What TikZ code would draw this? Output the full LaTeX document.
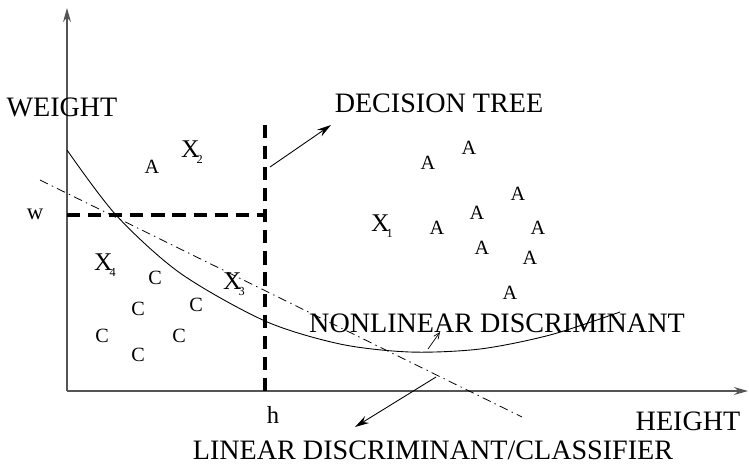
\documentclass[tikz,border=0pt]{standalone}
\usepackage{fontspec}
\setmainfont{Liberation Serif}
\usetikzlibrary{arrows.meta,positioning}
\definecolor{axisgray}{HTML}{555555}
\newcommand{\sublabel}[2]{X\kern-1.6pt\raisebox{-3.6pt}{\fontsize{7}{8}\selectfont #2}}
\tikzset{
  axisline/.style={axisgray, line width=0.7pt, -{Stealth[length=8pt,width=4.5pt]}},
  splitline/.style={black, line width=1.8pt, dash pattern=on 7.5pt off 4.5pt},
  linearline/.style={black, line width=0.45pt, dash pattern=on 5pt off 2.5pt on 0.8pt off 2.5pt},
  curveline/.style={black, line width=0.5pt},
  pointer/.style={black, line width=0.5pt, -{Stealth[length=8pt,width=4.5pt]}},
  openpointer/.style={black, line width=0.4pt, -{Straight Barb[length=3.5pt,width=3pt]}},
  biglabel/.style={font=\fontsize{16}{18}\selectfont, inner sep=0pt},
  classA/.style={font=\fontsize{11.5}{12}\selectfont, inner sep=0pt},
  samplelabel/.style={font=\fontsize{14.5}{16}\selectfont, inner sep=0pt}
}
\begin{document}
\begin{tikzpicture}[x=0.02cm, y=-0.02cm]
  \useasboundingbox (0,0) rectangle (749,464);
  % axes
  \coordinate (origin) at (67,391);
  \coordinate (ytop) at (67,8);
  \coordinate (xend) at (748,391);
  \draw[axisline] (origin) -- (ytop);
  \draw[axisline] (origin) -- (xend);
  \node[biglabel] (weight) at (62,107) {WEIGHT};
  \node[biglabel] (height) at (688,421) {HEIGHT};
  % decision tree split
  \coordinate (htop) at (265,124);
  \coordinate (hbot) at (265,391);
  \coordinate (wleft) at (67,215);
  \draw[splitline] (hbot) -- (htop);
  \draw[splitline] (wleft) -- (265,215);
  \node[font=\fontsize{13}{14}\selectfont, inner sep=0pt] (wlab) at (35,214) {w};
  \node[font=\fontsize{14}{15}\selectfont, inner sep=0pt] (hlab) at (273,415) {h};
  % discriminants
  \coordinate (linA) at (40,180);
  \coordinate (linB) at (522,417);
  \draw[linearline] (linA) -- (linB);
  \draw[curveline] plot[smooth] coordinates {(67,150) (116,215) (180,273) (265,321)
    (340,344) (410,352) (480,349) (550,335) (620,312)};
  % labels and pointers
  \node[biglabel] (dtree) at (439,103) {DECISION TREE};
  \node[biglabel] (nonlin) at (497,323) {NONLINEAR DISCRIMINANT};
  \node[biglabel] (linear) at (433,450) {LINEAR DISCRIMINANT/CLASSIFIER};
  \coordinate (dtfrom) at (270,167);
  \coordinate (dtto) at (331,125);
  \draw[pointer] (dtfrom) -- (dtto);
  \coordinate (nlfrom) at (428,349);
  \coordinate (nlto) at (440,332);
  \draw[openpointer] (nlfrom) -- (nlto);
  \coordinate (lnfrom) at (436,377);
  \coordinate (lnto) at (355,427);
  \draw[pointer] (lnfrom) -- (lnto);
  % class A
  \foreach \px/\py [count=\i] in {152/167, 428/163, 469/148, 518/194, 477/213, 437/228,
    538/228, 482/248, 530/258, 510/293}
    \node[classA] (a\i) at (\px,\py) {A};
  % class C
  \foreach \px/\py [count=\i] in {155/278, 138/309, 196/305, 102/336, 179/336, 138/355}
    \node[classA] (c\i) at (\px,\py) {C};
  % samples
  \node[samplelabel] (x1) at (382,226) {\sublabel{X}{1}};
  \node[samplelabel] (x2) at (192,152) {\sublabel{X}{2}};
  \node[samplelabel] (x3) at (234,284) {\sublabel{X}{3}};
  \node[samplelabel] (x4) at (105,265) {\sublabel{X}{4}};
\end{tikzpicture}
\end{document}
